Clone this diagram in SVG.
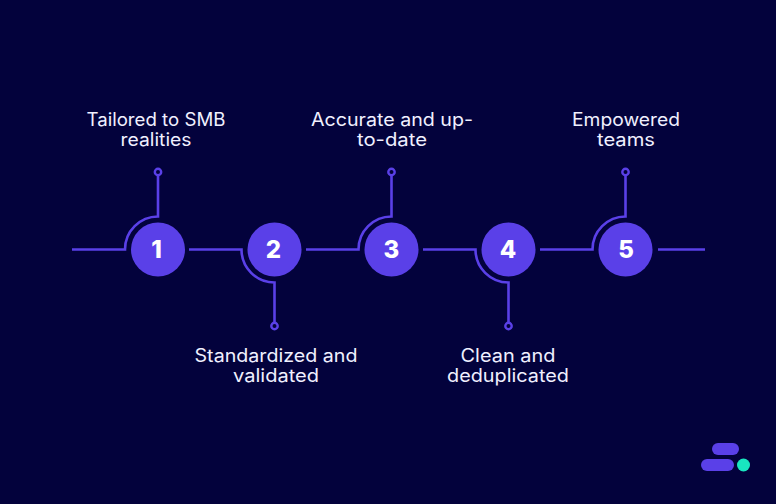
<svg xmlns="http://www.w3.org/2000/svg" width="776" height="504" viewBox="0 0 776 504">
<style>
.c{fill:none;stroke:#5a40e8;stroke-width:2.6}
.d{fill:#03023c;stroke:#5a40e8;stroke-width:2.4}
.n{fill:#5a40e8}
.num{font-family:"Inter","Liberation Sans",sans-serif;font-weight:800;font-size:24px;fill:#fff;text-anchor:middle}
.t{font-family:"Inter","Liberation Sans",sans-serif;font-size:18px;fill:#f0f0ff;text-anchor:middle}
</style>
<rect width="776" height="504" fill="#03023c"/>
<g id="connectors">
<path class="c" d="M72 249.500H125A33 33 0 0 1 158 216.500V175"/>
<circle class="d" cx="158" cy="172" r="3.200"/>
<path class="c" d="M189 249.500H241.500A33 33 0 0 0 274.500 282.500V323"/>
<circle class="d" cx="274.500" cy="326" r="3.200"/>
<path class="c" d="M306 249.500H358.500A33 33 0 0 1 391.500 216.500V175"/>
<circle class="d" cx="391.500" cy="172" r="3.200"/>
<path class="c" d="M423 249.500H475.500A33 33 0 0 0 508.500 282.500V323"/>
<circle class="d" cx="508.500" cy="326" r="3.200"/>
<path class="c" d="M540 249.500H592.500A33 33 0 0 1 625.500 216.500V175"/>
<circle class="d" cx="625.500" cy="172" r="3.200"/>
<path class="c" d="M658 249.500H705"/>
</g>
<g id="node1"><circle class="n" cx="158" cy="249.500" r="27"/><text class="num" x="156.500" y="257.500">1</text><text class="t" x="156" y="126" textLength="139" lengthAdjust="spacingAndGlyphs">Tailored to SMB</text><text class="t" x="156" y="146" textLength="71" lengthAdjust="spacingAndGlyphs">realities</text></g>
<g id="node2"><circle class="n" cx="274.500" cy="249.500" r="27"/><text class="num" x="273.500" y="257.500">2</text><text class="t" x="276" y="362" textLength="163" lengthAdjust="spacingAndGlyphs">Standardized and</text><text class="t" x="276" y="382" textLength="86" lengthAdjust="spacingAndGlyphs">validated</text></g>
<g id="node3"><circle class="n" cx="391.500" cy="249.500" r="27"/><text class="num" x="391.500" y="257.500">3</text><text class="t" x="392" y="126" textLength="162" lengthAdjust="spacingAndGlyphs">Accurate and up-</text><text class="t" x="392" y="146" textLength="70" lengthAdjust="spacingAndGlyphs">to-date</text></g>
<g id="node4"><circle class="n" cx="508.500" cy="249.500" r="27"/><text class="num" x="508" y="257.500">4</text><text class="t" x="508" y="362" textLength="95" lengthAdjust="spacingAndGlyphs">Clean and</text><text class="t" x="508" y="382" textLength="122" lengthAdjust="spacingAndGlyphs">deduplicated</text></g>
<g id="node5"><circle class="n" cx="625.500" cy="249.500" r="27"/><text class="num" x="626" y="257.500">5</text><text class="t" x="626" y="126" textLength="108" lengthAdjust="spacingAndGlyphs">Empowered</text><text class="t" x="626" y="146" textLength="58" lengthAdjust="spacingAndGlyphs">teams</text></g>
<g id="logo"><rect class="n" x="712" y="443" width="27" height="12" rx="6"/><rect class="n" x="701" y="459" width="33" height="12" rx="6"/><circle cx="743.500" cy="465" r="6.500" fill="#19e6c0"/></g>
</svg>
